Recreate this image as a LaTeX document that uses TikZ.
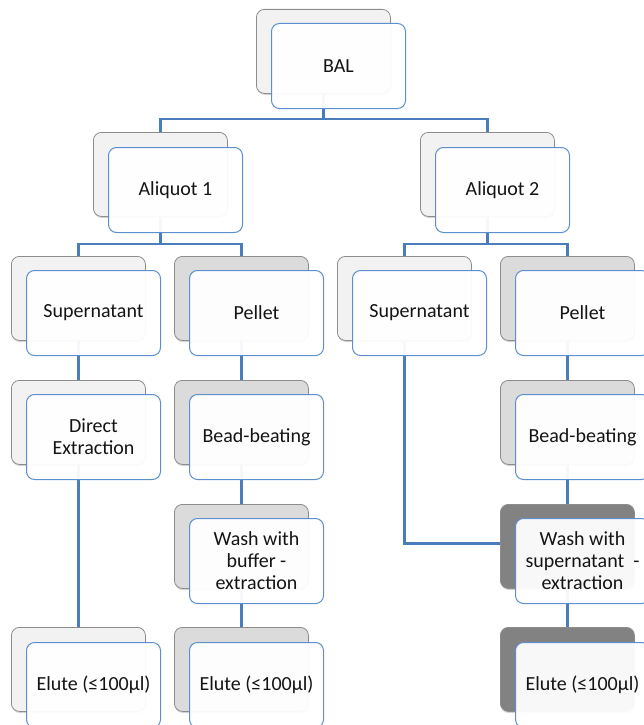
\documentclass[tikz,border=0pt]{standalone}
\usepackage{fontspec}
\setmainfont{Carlito}
\usetikzlibrary{shadows,calc}
\definecolor{connc}{HTML}{4A7EBB}
\definecolor{backline}{HTML}{8C8C8C}
\definecolor{frontline}{HTML}{5B8FD0}
\definecolor{lightg}{HTML}{F2F2F2}
\definecolor{midg}{HTML}{DBDBDB}
\definecolor{darkg}{HTML}{828282}
\definecolor{textc}{HTML}{141414}
\pgfdeclarelayer{bg}
\pgfsetlayers{bg,main}
\begin{document}
\begin{tikzpicture}[x=1pt,y=-1pt,
  backbox/.style={draw=backline, line width=0.8pt, rounded corners=8pt,
    minimum width=134pt, minimum height=84pt, anchor=north west, inner sep=0pt,
    drop shadow={shadow xshift=0.6pt, shadow yshift=-1.6pt, opacity=0.35}},
  lightbox/.style={backbox, fill=lightg},
  midbox/.style={backbox, fill=midg},
  darkbox/.style={backbox, fill=darkg},
  frontbox/.style={draw=frontline, line width=1pt, fill=white, fill opacity=0.95,
    text opacity=1, rounded corners=8pt, minimum width=134pt, minimum height=85pt,
    anchor=north west, inner sep=2pt, align=center, text=textc,
    font=\fontsize{20}{22}\selectfont},
  connline/.style={draw=connc, line width=2.9pt}
]
\useasboundingbox (0,0) rectangle (644,725);
\clip (0,0) rectangle (644,725);
% back boxes
\node[lightbox] (bal) at (256,9) {};
\node[lightbox] (a1) at (93,132) {};
\node[lightbox] (a2) at (420,132) {};
\node[lightbox] (s1) at (11,256) {};
\node[midbox] (p1) at (174,256) {};
\node[lightbox] (s2) at (337,256) {};
\node[midbox] (p2) at (500,256) {};
\node[lightbox] (d1) at (11,380) {};
\node[midbox] (bb1) at (174,380) {};
\node[midbox] (bb2) at (500,380) {};
\node[midbox] (w1) at (174,504) {};
\node[darkbox] (w2) at (500,504) {};
\node[lightbox] (e1) at (11,627) {};
\node[midbox] (e2) at (174,627) {};
\node[darkbox] (e3) at (500,627) {};
% front boxes
\node[frontbox] (balT) at (271,23) {BAL};
\node[frontbox] (a1T) at (108,147) {Aliquot 1};
\node[frontbox] (a2T) at (435,147) {Aliquot 2};
\node[frontbox] (s1T) at (26,270) {Supernatant};
\node[frontbox] (p1T) at (189,270) {Pellet};
\node[frontbox] (s2T) at (352,270) {Supernatant};
\node[frontbox] (p2T) at (515,270) {Pellet};
\node[frontbox] (d1T) at (26,394) {Direct\\Extraction};
\node[frontbox] (bb1T) at (189,394) {Bead-beating};
\node[frontbox] (bb2T) at (515,394) {Bead-beating};
\node[frontbox] (w1T) at (189,518) {Wash with\\buffer -\\extraction};
\node[frontbox] (w2T) at (515,518) {Wash with\\supernatant \ -\\extraction};
\node[frontbox] (e1T) at (26,642) {Elute (≤100µl)};
\node[frontbox] (e2T) at (189,642) {Elute (≤100µl)};
\node[frontbox] (e3T) at (515,642) {Elute (≤100µl)};
% connectors
\coordinate (y1) at (0,119);
\coordinate (y2) at (0,244);
\begin{pgfonlayer}{bg}
\draw[connline] (bal.south) -- (bal.south |- y1) -| (a1.north);
\draw[connline] (bal.south |- y1) -| (a2.north);
\draw[connline] (a1.south) -- (a1.south |- y2) -| (s1.north);
\draw[connline] (a1.south |- y2) -| (p1.north);
\draw[connline] (a2.south) -- (a2.south |- y2) -| (s2.north);
\draw[connline] (a2.south |- y2) -| (p2.north);
\draw[connline] (s1.south) -- (d1.north);
\draw[connline] (d1.south) -- (e1.north);
\draw[connline] (p1.south) -- (bb1.north);
\draw[connline] (bb1.south) -- (w1.north);
\draw[connline] (w1.south) -- (e2.north);
\draw[connline] (s2.south) |- ($(w2.west)+(0,-3)$);
\draw[connline] (p2.south) -- (bb2.north);
\draw[connline] (bb2.south) -- (w2.north);
\draw[connline] (w2.south) -- (e3.north);
\end{pgfonlayer}
\end{tikzpicture}
\end{document}
